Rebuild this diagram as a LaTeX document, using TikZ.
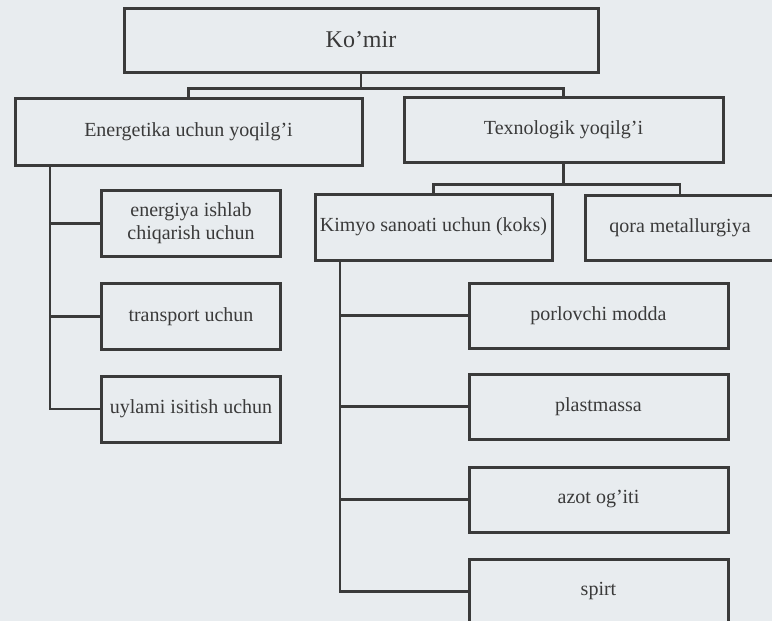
\documentclass[tikz,border=0pt]{standalone}
\usepackage{fontspec}
\setmainfont{Liberation Serif}
\usetikzlibrary{positioning}
\definecolor{paper}{HTML}{E8ECEF}
\definecolor{ink}{HTML}{3A3A3A}

\tikzset{
  box/.style={draw=ink, line width=1.5pt, fill=paper, text=ink, align=center,
    inner sep=0pt, font=\fontsize{10}{11.5}\selectfont},
  leftbox/.style={box, minimum width=89.5pt, minimum height=33pt},
  rightbox/.style={box, minimum width=129.5pt, minimum height=32.5pt},
  link/.style={draw=ink, line width=1.4pt},
}

\begin{document}
\begin{tikzpicture}[x=0.5pt, y=-0.5pt]
    \useasboundingbox (0,0) rectangle (772,621);
    \fill[paper] (0,0) rectangle (772,621);
    \clip (0,0) rectangle (772,621);
    % top levels
    \node[box, minimum width=237pt, minimum height=32pt, font=\fontsize{12}{14}\selectfont] (komir) at (361,40) {Ko'mir};
    \node[box, minimum width=173.5pt, minimum height=33.5pt] (energetika) at (188.5,131.5) {Energetika uchun yoqilg'i};
    \node[box, minimum width=159.5pt, minimum height=32.5pt] (texnologik) at (563.5,129.5) {Texnologik yoqilg'i};
    \node[box, minimum width=118.5pt, minimum height=33pt] (kimyo) at (433.5,227) {Kimyo sanoati uchun (koks)};
    \node[box, minimum width=95pt, minimum height=32.5pt] (qora) at (680,227.5) {qora metallurgiya};
    % left column
    \node[leftbox] (energiya) at (191,223.5) {energiya ishlab\\chiqarish uchun};
    \node[leftbox] (transport) at (191,316.5) {transport uchun};
    \node[leftbox] (uylami) at (191,409) {uylami isitish uchun};
    % right column
    \node[rightbox] (porlovchi) at (598.5,315.5) {porlovchi modda};
    \node[rightbox] (plastmassa) at (598.5,406.5) {plastmassa};
    \node[rightbox] (azot) at (598.5,499.5) {azot og'iti};
    \node[rightbox] (spirt) at (598.5,591.5) {spirt};

    \draw[link] (komir.south) -- ++(0,15) -| (energetika.north);
    \draw[link] (komir.south) -- ++(0,15) -| (texnologik.north);
    \draw[link] (texnologik.south) -- ++(0,21) -| (kimyo.north);
    \draw[link] (texnologik.south) -- ++(0,21) -| (qora.north);

    \coordinate (etrunk) at (50,165);
    \draw[link] (etrunk) |- (uylami.west);
    \foreach \n in {energiya, transport}
      \draw[link] (etrunk |- \n.west) -- (\n.west);

    \coordinate (ktrunk) at (340,260);
    \draw[link] (ktrunk) |- (spirt.west);
    \foreach \n in {porlovchi, plastmassa, azot}
      \draw[link] (ktrunk |- \n.west) -- (\n.west);
\end{tikzpicture}
\end{document}
